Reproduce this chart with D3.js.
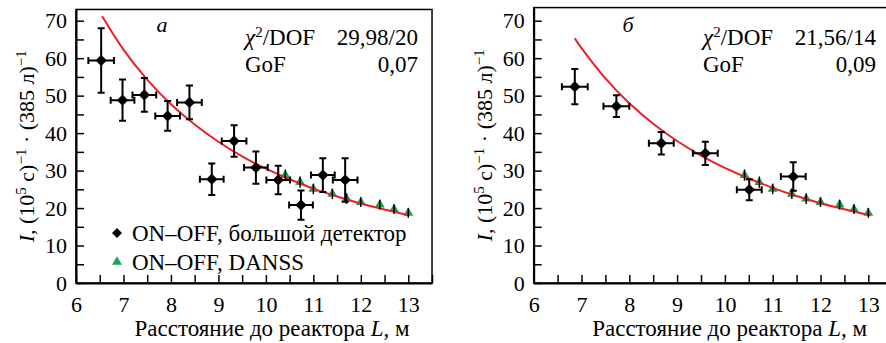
<!DOCTYPE html>
<html>
<head>
<meta charset="utf-8">
<style>
    body { margin: 0; background: #fff; }
</style>
</head>
<body>
<script src="https://d3js.org/d3.v7.min.js" charset="utf-8"></script>
<div id="chart"></div>
<script>
    // big detector, panel а
    const distA = [6.53, 6.98, 7.44, 7.93, 8.39, 8.86, 9.33, 9.79, 10.26, 10.74, 11.20, 11.67];
    const rateA = [59.4, 48.8, 50.2, 44.6, 48.2, 27.7, 37.9, 30.8, 27.5, 20.8, 28.8, 27.5];
    const rateErrA = [8.6, 5.5, 4.5, 4.0, 4.5, 4.2, 4.2, 4.3, 3.8, 3.9, 4.5, 5.8];
    const distErrA = [0.27, 0.25, 0.25, 0.26, 0.26, 0.25, 0.26, 0.25, 0.25, 0.25, 0.25, 0.26];

    // big detector, panel б
    const distB = [6.86, 7.73, 8.67, 9.59, 10.51, 11.43];
    const rateB = [52.4, 47.2, 37.3, 34.6, 24.9, 28.4];
    const rateErrB = [4.7, 2.9, 3.0, 3.1, 2.8, 3.8];
    const distErrB = [0.27, 0.27, 0.26, 0.26, 0.26, 0.26];

    // DANSS points (same on both panels)
    const distD = [10.41, 10.72, 11.0, 11.4, 11.7, 12.0, 12.4, 12.7, 13.0];
    const rateD = [28.8, 26.9, 25.1, 23.8, 22.5, 21.6, 20.9, 19.7, 18.7];
    const rateErrD = [1.5, 1.5, 1.4, 1.4, 1.4, 1.3, 1.3, 1.3, 1.3];

    // fit curves
    const fitDistA = [6.55, 7, 7.5, 8, 8.5, 9, 9.5, 10, 10.5, 11, 11.5, 12, 12.5, 13];
    const fitRateA = [71.2, 62.3, 54.3, 47.7, 42.3, 37.7, 33.8, 30.5, 27.7, 25.2, 23.1, 21.2, 19.6, 18.1];
    const fitDistB = [6.86, 7, 7.5, 8, 8.5, 9, 9.5, 10, 10.5, 11, 11.5, 12, 12.5, 13.05];
    const fitRateB = [65.3, 62.7, 54.6, 48.0, 42.5, 37.9, 34.0, 30.7, 27.9, 25.4, 23.2, 21.3, 19.7, 18.0];

    const xTicks = d3.range(6, 13.51, 0.5);
    const yTicks = d3.range(0, 71, 5);

    const W = 886, H = 343;
    const FONT = "'Liberation Serif', 'Times New Roman', 'DejaVu Serif', serif";
    const svg = d3.select("#chart").append("svg")
        .attr("width", W).attr("height", H)
        .attr("font-family", FONT);

    const red = "#e8202a", green = "#1aa152";

    function zip(xs, ys, es, xe) {
        return xs.map((x, i) => ({x: x, y: ys[i], e: es ? es[i] : 0, xe: xe ? xe[i] : 0}));
    }

    function drawPanel(p) {
        const g = svg.append("g");
        const x = d3.scaleLinear().domain([6, 13.5]).range([p.left, p.left + 7.5 * p.unit]);
        const y = d3.scaleLinear().domain([0, p.ymax]).range([283, 283 - p.ymax * 3.747]);

        // frame
        g.append("rect")
            .attr("x", x(6)).attr("y", y(p.ymax))
            .attr("width", x(13.5) - x(6)).attr("height", y(0) - y(p.ymax))
            .attr("fill", "none").attr("stroke", "#000").attr("stroke-width", 1.5);

        // axes with inward ticks
        const xAxis = g.append("g")
            .attr("transform", `translate(0,${y(0)})`)
            .call(d3.axisBottom(x).tickValues(xTicks).tickSizeInner(-8).tickSizeOuter(0).tickPadding(13)
                .tickFormat(d => Number.isInteger(d) ? d : ""));
        const yAxis = g.append("g")
            .attr("transform", `translate(${x(6)},0)`)
            .call(d3.axisLeft(y).tickValues(yTicks).tickSizeInner(-8).tickSizeOuter(0).tickPadding(9)
                .tickFormat(d => d % 10 === 0 ? d : ""));
        [xAxis, yAxis].forEach(a => {
            a.attr("font-family", FONT);
            a.select(".domain").attr("stroke-width", 2);
            a.selectAll(".tick line").attr("stroke-width", 1.5);
            a.selectAll("text").attr("font-size", 22).attr("fill", "#000");
        });

        // axis titles
        g.append("text")
            .attr("x", x(6) + 196).attr("y", 336)
            .attr("text-anchor", "middle").attr("font-size", 23)
            .call(t => {
                t.append("tspan").text("Расстояние до реактора ");
                t.append("tspan").attr("font-style", "italic").text("L");
                t.append("tspan").text(", м");
            });

        g.append("text")
            .attr("transform", `translate(${x(6) - 42},${(y(0) + y(p.ymax)) / 2}) rotate(-90)`)
            .attr("text-anchor", "middle").attr("font-size", 22)
            .call(t => {
                t.append("tspan").attr("font-style", "italic").text("I");
                t.append("tspan").text(", (10");
                t.append("tspan").attr("font-size", 15).attr("dy", -8).text("5");
                t.append("tspan").attr("dy", 8).text(" с)");
                t.append("tspan").attr("font-size", 15).attr("dy", -8).text("−1");
                t.append("tspan").attr("dy", 8).text(" · (385 л)");
                t.append("tspan").attr("font-size", 15).attr("dy", -8).text("−1");
            });

        // panel letter and fit quality
        g.append("text").attr("x", p.letterX).attr("y", 32)
            .attr("font-size", 22).attr("font-style", "italic").attr("text-anchor", "middle").text(p.letter);
        g.append("text").attr("x", p.statLeft).attr("y", 45).attr("font-size", 23)
            .call(t => {
                t.append("tspan").attr("font-style", "italic").text("χ");
                t.append("tspan").attr("font-size", 15).attr("dy", -8).text("2");
                t.append("tspan").attr("dy", 8).text("/DOF");
            });
        g.append("text").attr("x", p.statRight).attr("y", 45).attr("font-size", 23)
            .attr("text-anchor", "end").text(p.chi);
        g.append("text").attr("x", p.statLeft).attr("y", 72).attr("font-size", 23).text("GoF");
        g.append("text").attr("x", p.statRight).attr("y", 72).attr("font-size", 23)
            .attr("text-anchor", "end").text(p.gof);

        // DANSS triangles
        const dPts = zip(distD, rateD, rateErrD);
        g.append("g").selectAll("path").data(dPts).enter().append("path")
            .attr("d", d3.symbol(d3.symbolTriangle, 42))
            .attr("transform", d => `translate(${x(d.x)},${y(d.y)})`)
            .attr("fill", green);

        // fit curve
        const line = d3.line().x(d => x(d.x)).y(d => y(d.y)).curve(d3.curveNatural);
        g.append("path").datum(zip(p.fitX, p.fitY))
            .attr("d", line).attr("fill", "none").attr("stroke", red).attr("stroke-width", 2);

        // DANSS error bars
        g.append("g").selectAll("path").data(dPts).enter().append("path")
            .attr("d", d => `M${x(d.x)},${y(d.y + d.e)}V${y(d.y - d.e)}`)
            .attr("stroke", "#000").attr("stroke-width", 1.5);

        // big detector points with error bars
        const pts = zip(p.dist, p.rate, p.rateErr, p.distErr);
        const eb = g.append("g").attr("stroke", "#000").attr("stroke-width", 2).attr("fill", "none");
        eb.selectAll("path").data(pts).enter().append("path")
            .attr("d", d => {
                const cx = x(d.x), cy = y(d.y), t = y(d.y + d.e), b = y(d.y - d.e);
                const l = x(d.x - d.xe), r = x(d.x + d.xe);
                return `M${cx},${t}V${b}M${cx - 3.5},${t}H${cx + 3.5}M${cx - 3.5},${b}H${cx + 3.5}` +
                    `M${l},${cy}H${r}M${l},${cy - 3.5}V${cy + 3.5}M${r},${cy - 3.5}V${cy + 3.5}`;
            });
        g.append("g").selectAll("path").data(pts).enter().append("path")
            .attr("d", d3.symbol(d3.symbolSquare, 64))
            .attr("transform", d => `translate(${x(d.x)},${y(d.y)}) rotate(45)`)
            .attr("fill", "#000");

        return {x: x, y: y, g: g};
    }

    const pa = drawPanel({
        left: 76, unit: 47.47, ymax: 73,
        dist: distA, rate: rateA, rateErr: rateErrA, distErr: distErrA,
        fitX: fitDistA, fitY: fitRateA,
        letter: "а", letterX: 162, statLeft: 245, statRight: 418, chi: "29,98/20", gof: "0,07"
    });
    drawPanel({
        left: 533.7, unit: 47.8, ymax: 73.5,
        dist: distB, rate: rateB, rateErr: rateErrB, distErr: distErrB,
        fitX: fitDistB, fitY: fitRateB,
        letter: "б", letterX: 628, statLeft: 703, statRight: 876, chi: "21,56/14", gof: "0,09"
    });

    // legend (left panel only)
    const lg = pa.g.append("g");
    lg.append("path").attr("d", d3.symbol(d3.symbolSquare, 50))
        .attr("transform", "translate(117,233) rotate(45)").attr("fill", "#000");
    lg.append("text").attr("x", 132).attr("y", 241).attr("font-size", 23).text("ON–OFF, большой детектор");
    lg.append("path").attr("d", d3.symbol(d3.symbolTriangle, 42))
        .attr("transform", "translate(117,262)").attr("fill", green);
    lg.append("text").attr("x", 132).attr("y", 270).attr("font-size", 23).text("ON–OFF, DANSS");
</script>
</body>
</html>
